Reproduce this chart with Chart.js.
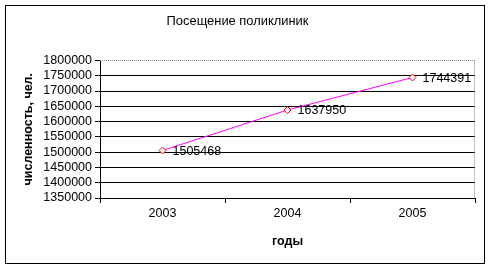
<!DOCTYPE html>
<html>
<head>
<meta charset="utf-8">
<script src="https://cdn.jsdelivr.net/npm/chart.js@4.4.0/dist/chart.umd.min.js"></script>
<style>
  html, body { margin: 0; padding: 0; background: #fff; }
  #wrap { width: 491px; height: 269px; }
</style>
</head>
<body>
<div id="wrap"><canvas id="myChart" width="491" height="269"></canvas></div>
<script>
// data
const years = ['2003', '2004', '2005'];
const visits = [1505468, 1637950, 1744391];
const yMin = 1350000, yMax = 1800000, yStep = 50000;

const font = 'Liberation Sans, Arial, sans-serif';

// outer frame, plot border and point labels
const extras = {
  id: 'extras',
  beforeDraw(chart) {
    const c = chart.ctx;
    c.save();
    c.fillStyle = '#fff';
    c.fillRect(0, 0, chart.width, chart.height);
    c.strokeStyle = '#000';
    c.lineWidth = 1;
    c.strokeRect(5.5, 5.5, 479, 258);
    c.restore();
  },
  afterDraw(chart) {
    const c = chart.ctx;
    const a = chart.chartArea;
    c.save();
    c.strokeStyle = '#808080';
    c.lineWidth = 1;
    c.setLineDash([1, 1]);
    c.beginPath();
    c.moveTo(a.left, Math.round(a.top) + 0.5);
    c.lineTo(a.right, Math.round(a.top) + 0.5);
    c.moveTo(Math.round(a.right) - 0.5, a.top);
    c.lineTo(Math.round(a.right) - 0.5, a.bottom);
    c.stroke();
    c.setLineDash([]);
    c.fillStyle = '#000';
    c.font = '12.5px ' + font;
    c.textBaseline = 'middle';
    chart.getDatasetMeta(0).data.forEach((pt, i) => {
      c.fillText(String(visits[i]), pt.x + 10, pt.y + 1);
    });
    c.restore();
  }
};

let ctx = document.getElementById('myChart').getContext('2d');
let visitsChart = new Chart(ctx, {
  type: 'line',
  data: {
    labels: years,
    datasets: [{
      data: visits,
      borderColor: '#ff00ff',
      borderWidth: 1,
      pointStyle: 'rectRot',
      pointRadius: 3.5,
      pointBorderColor: '#ff0000',
      pointBackgroundColor: '#ffffff',
      pointBorderWidth: 1,
      tension: 0
    }]
  },
  options: {
    responsive: false,
    animation: false,
    layout: { padding: { left: 0, right: 16, top: 0, bottom: 0 } },
    plugins: {
      legend: { display: false },
      tooltip: { enabled: false },
      title: {
        display: true,
        text: 'Посещение поликлиник',
        color: '#000',
        font: { family: font, size: 12.9, weight: 'normal' },
        padding: { top: 14, bottom: 31 }
      }
    },
    scales: {
      x: {
        offset: true,
        grid: { offset: true, drawOnChartArea: false, tickLength: 5, color: '#000' },
        border: { color: '#000' },
        ticks: { color: '#000', font: { family: font, size: 12.5 }, padding: 3 },
        title: {
          display: true, text: 'годы', color: '#000',
          font: { family: font, size: 12.5, weight: 'bold' },
          padding: { top: 20, bottom: 20 }
        },
        afterFit(s) { s.height = 71; }
      },
      y: {
        min: yMin, max: yMax,
        grid: {
          color: (c) => c.tick && c.tick.value === yMax ? 'rgba(0,0,0,0)' : '#000',
          tickColor: '#000',
          tickLength: 5
        },
        border: { color: '#000' },
        ticks: {
          stepSize: yStep, autoSkip: false, color: '#000',
          font: { family: font, size: 12.5 }, padding: 3,
          callback: (v) => String(v)
        },
        title: {
          display: true, text: 'численность, чел.', color: '#000',
          font: { family: font, size: 12.5, weight: 'bold' },
          padding: { top: 21, bottom: 0 }
        },
        afterFit(s) { s.width = 100; }
      }
    }
  },
  plugins: [extras]
});
</script>
</body>
</html>
